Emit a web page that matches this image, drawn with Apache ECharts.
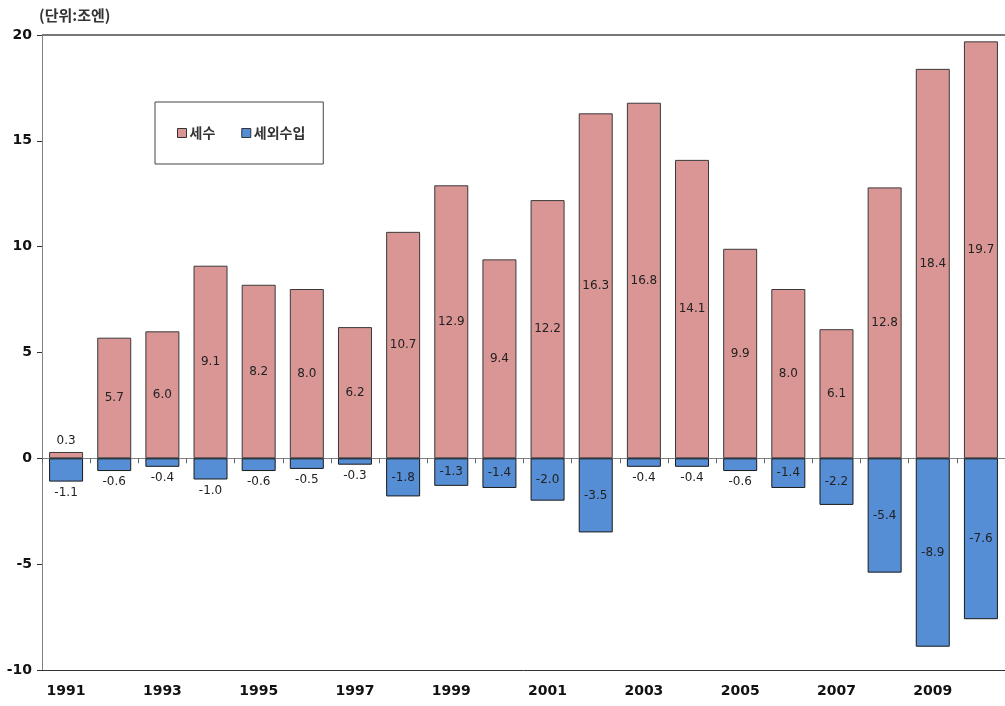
<!DOCTYPE html>
<html>
<head>
<meta charset="utf-8">
<script src="https://cdn.jsdelivr.net/npm/echarts@6/dist/echarts.min.js"></script>
<style>
  html, body { margin: 0; padding: 0; background: #fff; }
  #chart { width: 1005px; height: 706px; }
</style>
</head>
<body>
<div id="chart"></div>
<script>
const years = ['1991', '1992', '1993', '1994', '1995', '1996', '1997', '1998', '1999', '2000',
               '2001', '2002', '2003', '2004', '2005', '2006', '2007', '2008', '2009', '2010'];
const taxRevenue = [0.3, 5.7, 6.0, 9.1, 8.2, 8.0, 6.2, 10.7, 12.9, 9.4,
                    12.2, 16.3, 16.8, 14.1, 9.9, 8.0, 6.1, 12.8, 18.4, 19.7];
const nonTaxRevenue = [-1.1, -0.6, -0.4, -1.0, -0.6, -0.5, -0.3, -1.8, -1.3, -1.4,
                       -2.0, -3.5, -0.4, -0.4, -0.6, -1.4, -2.2, -5.4, -8.9, -7.6];
const seriesNames = ['세수', '세외수입'];

const COLOR_TAX = '#D99694';
const COLOR_NONTAX = '#558ED5';
const FONT_KR = '"Noto Sans CJK KR", "DejaVu Sans", sans-serif';
const FONT_NUM = '"DejaVu Sans", sans-serif';

const labelBase = { show: true, color: '#222', fontFamily: FONT_NUM, fontSize: 12,
    formatter: p => p.value.toFixed(1) };

const taxData = taxRevenue.map(v => ({
    value: v,
    label: { position: v < 1 ? 'top' : 'inside' }
}));
const nonTaxData = nonTaxRevenue.map(v => ({
    value: v,
    label: { position: Math.abs(v) < 1.25 ? 'bottom' : 'inside' }
}));

const chart = echarts.init(document.getElementById('chart'));
chart.setOption({
    animation: false,
    title: {
        text: '(단위:조엔)',
        left: 34, top: 3,
        textStyle: { fontFamily: FONT_KR, fontSize: 15, fontWeight: 'bold', color: '#333' }
    },
    legend: {
        data: seriesNames,
        left: 155, top: 102,
        padding: [24, 18, 24, 22],
        itemGap: 26,
        itemWidth: 9, itemHeight: 9,
        borderColor: '#444', borderWidth: 1,
        icon: 'rect',
        itemStyle: { borderColor: '#333', borderWidth: 1 },
        textStyle: { fontFamily: FONT_KR, fontSize: 14, fontWeight: 'bold', color: '#333', padding: [0, 0, 0, -2] }
    },
    grid: { left: 42, right: 0, top: 35, bottom: 36 },
    xAxis: [
        {
            type: 'category',
            data: years,
            position: 'bottom',
            axisLine: { onZero: false, lineStyle: { color: '#333', width: 1 } },
            axisTick: { show: false },
            axisLabel: { interval: 1, margin: 14, fontFamily: FONT_NUM, fontSize: 14, fontWeight: 'bold', color: '#111' }
        },
        {
            type: 'category',
            data: years,
            position: 'top',
            axisLine: { onZero: true, lineStyle: { color: '#808080', width: 1 } },
            axisTick: { show: true, inside: true, length: 5, lineStyle: { color: '#666' } },
            axisLabel: { show: false }
        }
    ],
    yAxis: {
        type: 'value',
        min: -10, max: 20, interval: 5,
        axisLine: { show: true, lineStyle: { color: '#808080', width: 1 } },
        axisTick: { show: true, length: 5, lineStyle: { color: '#333' } },
        axisLabel: { margin: 10, fontFamily: FONT_NUM, fontSize: 14, fontWeight: 'bold', color: '#111' },
        splitLine: { show: true, lineStyle: { color: ['transparent', 'transparent', 'transparent', 'transparent', 'transparent', 'transparent', '#777'], width: 2 } }
    },
    series: [
        {
            name: seriesNames[0],
            type: 'bar',
            barWidth: 34,
            barGap: '-100%',
            data: taxData,
            itemStyle: { color: COLOR_TAX, borderColor: '#3a3a3a', borderWidth: 1 },
            label: labelBase
        },
        {
            name: seriesNames[1],
            type: 'bar',
            barWidth: 34,
            data: nonTaxData,
            itemStyle: { color: COLOR_NONTAX, borderColor: '#1a1a1a', borderWidth: 1 },
            label: labelBase
        }
    ]
});
</script>
</body>
</html>
